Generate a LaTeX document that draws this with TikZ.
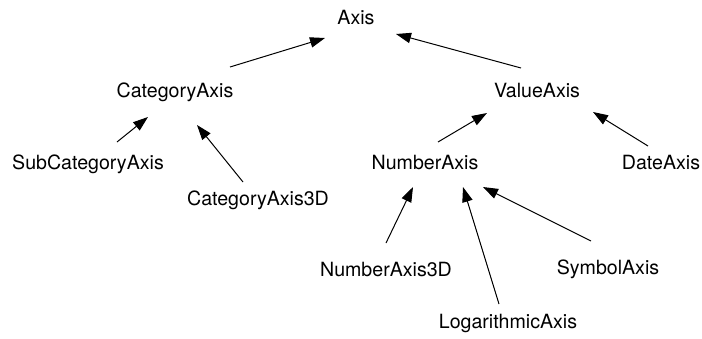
\documentclass[tikz,border=0pt]{standalone}
\usepackage{fontspec}
\setmainfont{TeX Gyre Heros}
\usetikzlibrary{arrows.meta}
\tikzset{
  cls node/.style={inner sep=0pt,font=\fontsize{9.8}{12}\selectfont},
  cls arrow/.style={black,line width=.5pt,-{Triangle[length=7.5pt,width=5.2pt]}}
}

\begin{document}
\begin{tikzpicture}[x=.5pt,y=-.5pt]
  \useasboundingbox (0,0) rectangle (702,338);
  % class names
  \node[cls node] (axis)  at (356,18)  {Axis};
  \node[cls node] (cat)   at (175,92)  {CategoryAxis};
  \node[cls node] (val)   at (537,90)  {ValueAxis};
  \node[cls node] (sub)   at (88,164)  {SubCategoryAxis};
  \node[cls node] (cat3d) at (258,200) {CategoryAxis3D};
  \node[cls node] (num)   at (425,162) {NumberAxis};
  \node[cls node] (date)  at (661,162) {DateAxis};
  \node[cls node] (num3d) at (386,269) {NumberAxis3D};
  \node[cls node] (sym)   at (608,269) {SymbolAxis};
  \node[cls node] (log)   at (508,323) {LogarithmicAxis};
  % inheritance arrows, child to parent
  \draw[cls arrow] ([shift={(55,-25)}]cat.center)   -- ([shift={(-31,20)}]axis.center);
  \draw[cls arrow] ([shift={(-16,-22)}]val.center)  -- ([shift={(40,16)}]axis.center);
  \draw[cls arrow] ([shift={(29,-22)}]sub.center)   -- ([shift={(-27,25)}]cat.center);
  \draw[cls arrow] ([shift={(-15,-18)}]cat3d.center) -- ([shift={(22,33)}]cat.center);
  \draw[cls arrow] ([shift={(13,-20)}]num.center)   -- ([shift={(-50,23)}]val.center);
  \draw[cls arrow] ([shift={(-13,-16)}]date.center) -- ([shift={(56,22)}]val.center);
  \draw[cls arrow] ([shift={(0,-26)}]num3d.center)  -- ([shift={(-12,25)}]num.center);
  \draw[cls arrow] ([shift={(-9,-19)}]log.center)   -- ([shift={(38,25)}]num.center);
  \draw[cls arrow] ([shift={(-17,-28)}]sym.center)  -- ([shift={(58,25)}]num.center);
\end{tikzpicture}
\end{document}
